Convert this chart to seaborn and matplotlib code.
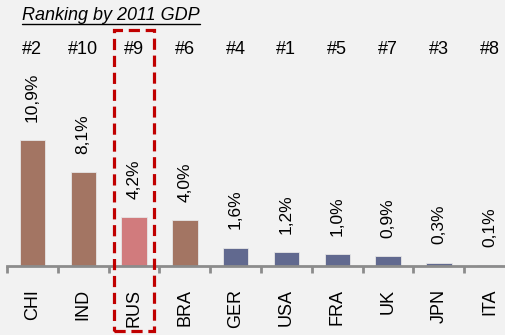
import matplotlib
matplotlib.use("Agg")
import matplotlib.pyplot as plt
import numpy as np
import pandas as pd
import seaborn as sns
from matplotlib.lines import Line2D
from matplotlib.patches import Rectangle

countries = ["CHI", "IND", "RUS", "BRA", "GER", "USA", "FRA", "UK", "JPN", "ITA"]
growth = [10.9, 8.1, 4.2, 4.0, 1.6, 1.2, 1.0, 0.9, 0.3, 0.1]
gdp_rank = ["#2", "#10", "#9", "#6", "#4", "#1", "#5", "#7", "#3", "#8"]
bar_colors = ["#A37563", "#A37563", "#D17B7D", "#A37563", "#61698F",
              "#61698F", "#61698F", "#61698F", "#61698F", "#61698F"]
highlight = "RUS"

BG = "#F2F2F2"
GREY = "#8C8C8C"

sns.set_theme(style="white")
plt.rcParams["font.family"] = ["Liberation Sans", "DejaVu Sans"]

df = pd.DataFrame({"country": countries, "growth": growth})

W, H = 505, 335
fig = plt.figure(figsize=(W / 100, H / 100), dpi=100, facecolor=BG)
ax = fig.add_axes([7 / W, 69 / H, 498 / W, 266 / H])
ax.set_facecolor(BG)

sns.barplot(data=df, x="country", y="growth", hue="country",
            palette=dict(zip(countries, bar_colors)), legend=False,
            width=0.5, saturation=1, edgecolor="#E6E6E6", linewidth=0.6,
            ax=ax)

ax.set_xlim(-0.5, -0.5 + 498 / 50.8)
ax.set_ylim(0, 266 / 11.56)

labels = [f"{v:.1f}".replace(".", ",") + "%" for v in growth]
for cont, lab in zip(ax.containers, labels):
    ax.bar_label(cont, labels=[lab], padding=13, rotation=90, fontsize=12.5,
                 color="black")

for i, r in enumerate(gdp_rank):
    ax.text(i, (266 - 49) / 11.56, r, ha="center", va="center", fontsize=13,
            color="black", clip_on=False)

# axis styling
for s in ["left", "right", "top"]:
    ax.spines[s].set_visible(False)
ax.spines["bottom"].set_color(GREY)
ax.spines["bottom"].set_linewidth(2)
ax.set_yticks([])
ax.set_xlabel("")
ax.set_ylabel("")
ax.set_xticks(range(len(countries)))
ax.set_xticklabels(countries, rotation=90, va="top", fontsize=13)
ax.tick_params(axis="x", which="major", length=0, pad=16.5, colors="black")
ax.set_xticks(np.arange(-0.5, len(countries) - 0.5), minor=True)
ax.tick_params(axis="x", which="minor", bottom=True, length=5, width=2,
               color=GREY, direction="out")

# dashed highlight box around RUS
hi = countries.index(highlight)
ax.add_patch(Rectangle((hi - 0.4, (266 - 331) / 11.56), 0.8, 301 / 11.56,
                       fill=False, edgecolor="#C00000", linewidth=2.3,
                       linestyle=(0, (3.5, 1.8)), clip_on=False, zorder=5))

# title with underline
title = fig.text(22 / W, 1 - 15 / H, "Ranking by 2011 GDP", ha="left",
                 va="center", fontsize=13, style="italic", color="black")
fig.canvas.draw()
bb = title.get_window_extent().transformed(fig.transFigure.inverted())
fig.add_artist(Line2D([bb.x0, bb.x1], [1 - 24 / H, 1 - 24 / H],
                      color="black", linewidth=1, transform=fig.transFigure))

fig.savefig("out.png", dpi=100, facecolor=BG)
